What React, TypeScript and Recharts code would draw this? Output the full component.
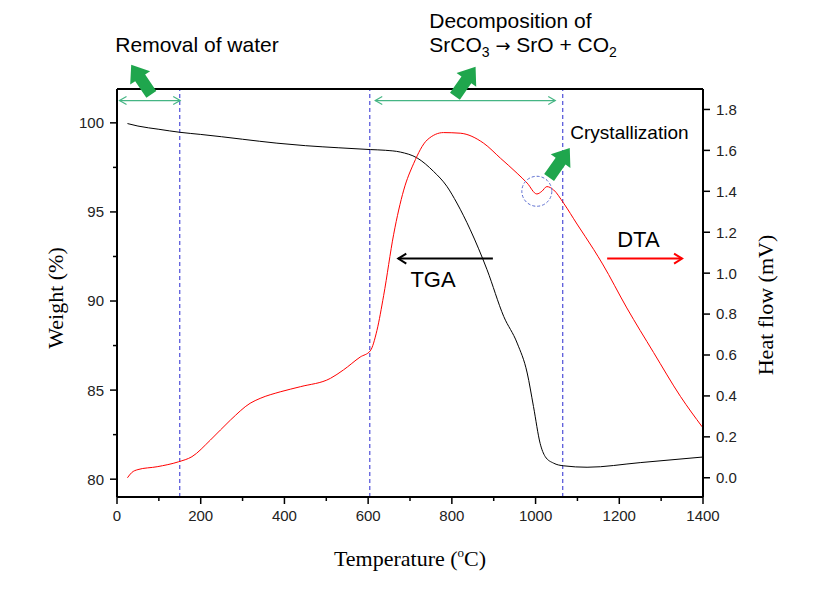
import { Line, LineChart, ReferenceDot, ReferenceLine, XAxis, YAxis } from "recharts";

// TGA: temperature (°C) vs weight (%)
const tgaTemp = [25, 50, 100, 150, 200, 250, 300, 382, 450, 530, 605, 641, 677, 717, 756, 788, 812, 844, 884, 924, 956, 980, 995, 1011, 1023, 1043, 1067, 1123, 1250, 1398];
const tgaWeight = [99.96, 99.82, 99.64, 99.47, 99.35, 99.22, 99.08, 98.86, 98.72, 98.6, 98.5, 98.46, 98.36, 98.03, 97.28, 96.44, 95.5, 94.0, 91.76, 89.13, 87.64, 85.96, 84.08, 82.0, 81.27, 80.9, 80.75, 80.67, 80.93, 81.24];

// DTA: temperature (°C) vs heat flow (mV)
const dtaTemp = [25, 35, 50, 96, 147, 179, 223, 271, 318, 342, 390, 438, 510, 541, 581, 605, 621, 637, 661, 685, 709, 741, 780, 820, 876, 916, 956, 980, 1003, 1015, 1027, 1043, 1067, 1099, 1139, 1160, 1218, 1282, 1346, 1398];
const dtaHeat = [0.0, 0.025, 0.04, 0.054, 0.078, 0.103, 0.184, 0.282, 0.364, 0.388, 0.42, 0.445, 0.486, 0.527, 0.59, 0.62, 0.72, 0.89, 1.19, 1.406, 1.537, 1.651, 1.687, 1.684, 1.635, 1.562, 1.488, 1.44, 1.387, 1.4, 1.423, 1.407, 1.342, 1.24, 1.115, 1.045, 0.83, 0.612, 0.398, 0.249];

const tempTicks = [0, 100, 200, 300, 400, 500, 600, 700, 800, 900, 1000, 1100, 1200, 1300, 1400];
const weightTicks = [80, 82.5, 85, 87.5, 90, 92.5, 95, 97.5, 100];
const heatTicks = [0, 0.2, 0.4, 0.6, 0.8, 1.0, 1.2, 1.4, 1.6, 1.8];

// stage boundaries (°C)
const stageLines = [150, 604, 1065];

const W = 818;
const H = 612;
const TICK = 7;
const MINOR = 4;
const GAP = 6;
const SANS = "'Liberation Sans', Arial, sans-serif";
const SERIF = "'Liberation Serif', 'Times New Roman', serif";
const GREEN = "#1fa64d";
const MINT = "#45b584";

const renderTick = (side: "left" | "right" | "bottom", isMajor: (v: number) => boolean, fmt: (v: number) => string) =>
  (p: any) => {
    const { x, y, payload } = p;
    const v = payload.value as number;
    const len = isMajor(v) ? TICK : MINOR;
    let line;
    let label = null;
    if (side === "left") {
      const ax = x + GAP + TICK;
      line = <line x1={ax} y1={y} x2={ax - len} y2={y} stroke="#000" strokeWidth={1.5} />;
      if (isMajor(v)) label = <text x={x} y={y} dy="0.36em" textAnchor="end">{fmt(v)}</text>;
    } else if (side === "right") {
      const ax = x - GAP - TICK;
      line = <line x1={ax} y1={y} x2={ax + len} y2={y} stroke="#000" strokeWidth={1.5} />;
      if (isMajor(v)) label = <text x={x} y={y} dy="0.36em" textAnchor="start">{fmt(v)}</text>;
    } else {
      const ay = y - GAP - TICK;
      line = <line x1={x} y1={ay} x2={x} y2={ay + len} stroke="#000" strokeWidth={1.5} />;
      if (isMajor(v)) label = <text x={x} y={y} dy="0.71em" textAnchor="middle">{fmt(v)}</text>;
    }
    return (
      <g fontFamily={SANS} fontSize={15} fill="#222">
        {line}
        {label}
      </g>
    );
  };

const chevron = (x: number, y: number, dir: number, len: number, half: number) =>
  `M${x - dir * len},${y - half} L${x},${y} L${x - dir * len},${y + half}`;

const blockArrow = (angle: number) => (p: any) => (
  <polygon
    points="-18,-6 2,-6 2,-12 18,0 2,12 2,6 -18,6"
    transform={`translate(${p.cx},${p.cy}) rotate(${angle})`}
    fill={GREEN}
  />
);

const note = (text: any, size: number, anchor = "start") => (p: any) => (
  <text x={p.cx} y={p.cy} fontFamily={SANS} fontSize={size} fill="#000" textAnchor={anchor}>
    {text}
  </text>
);

const spanShape = (p: any) => (
  <g stroke={MINT} strokeWidth={1.2} fill="none">
    <line x1={p.x1} y1={p.y1} x2={p.x2} y2={p.y2} />
    <path d={chevron(p.x1, p.y1, -1, 7, 4)} />
    <path d={chevron(p.x2, p.y2, 1, 7, 4)} />
  </g>
);

export default function App() {
  const tga = tgaTemp.map((t, i) => ({ t, w: tgaWeight[i] }));
  const dta = dtaTemp.map((t, i) => ({ t, h: dtaHeat[i] }));

  return (
    <div style={{ position: "absolute", left: 0, top: 0, width: W, height: H, background: "#fff" }}>
      <LineChart width={W} height={H} margin={{ top: 88, right: 55, bottom: 75, left: 57 }}>
        <XAxis
          xAxisId="top"
          orientation="top"
          type="number"
          domain={[0, 1400]}
          height={1}
          tick={false}
          tickLine={false}
          axisLine={{ stroke: "#000", strokeWidth: 2 }}
        />
        <XAxis
          dataKey="t"
          type="number"
          domain={[0, 1400]}
          ticks={tempTicks}
          interval={0}
          height={40}
          tickSize={TICK}
          tickMargin={GAP}
          tickLine={false}
          axisLine={{ stroke: "#000", strokeWidth: 2 }}
          tick={renderTick("bottom", (v) => v % 200 === 0, (v) => String(v))}
          label={(p: any) => (
            <text
              x={p.viewBox.x + p.viewBox.width / 2}
              y={p.viewBox.y + 69}
              textAnchor="middle"
              fontFamily={SERIF}
              fontSize={22}
              fill="#000"
            >
              Temperature (<tspan fontSize={13} dy={-9}>o</tspan>
              <tspan dy={9}>C)</tspan>
            </text>
          )}
        />
        <YAxis
          yAxisId="w"
          type="number"
          domain={[79, 101.9]}
          ticks={weightTicks}
          interval={0}
          width={60}
          tickSize={TICK}
          tickMargin={GAP}
          tickLine={false}
          axisLine={{ stroke: "#000", strokeWidth: 2 }}
          tick={renderTick("left", (v) => v % 5 === 0, (v) => String(v))}
          label={(p: any) => {
            const cx = p.viewBox.x + p.viewBox.width - 62;
            const cy = p.viewBox.y + p.viewBox.height / 2 + 5;
            return (
              <text x={cx} y={cy} transform={`rotate(-90 ${cx} ${cy})`} textAnchor="middle" dy="0.35em" fontFamily={SERIF} fontSize={22} fill="#000">
                Weight (%)
              </text>
            );
          }}
        />
        <YAxis
          yAxisId="h"
          orientation="right"
          type="number"
          domain={[-0.094, 1.9]}
          ticks={heatTicks}
          interval={0}
          width={60}
          tickSize={TICK}
          tickMargin={GAP}
          tickLine={false}
          axisLine={{ stroke: "#000", strokeWidth: 2 }}
          tick={renderTick("right", () => true, (v) => v.toFixed(1))}
          label={(p: any) => {
            const cx = p.viewBox.x + 62;
            const cy = p.viewBox.y + p.viewBox.height / 2 + 12;
            return (
              <text x={cx} y={cy} transform={`rotate(-90 ${cx} ${cy})`} textAnchor="middle" dy="0.35em" fontFamily={SERIF} fontSize={22} fill="#000">
                Heat flow (mV)
              </text>
            );
          }}
        />

        {stageLines.map((t) => (
          <ReferenceLine key={t} x={t} yAxisId="w" stroke="#2b2bd0" strokeWidth={1} strokeDasharray="4 3" />
        ))}

        <Line data={tga} yAxisId="w" dataKey="w" type="monotone" stroke="#000" strokeWidth={1} dot={false} isAnimationActive={false} />
        <Line data={dta} yAxisId="h" dataKey="h" type="monotone" stroke="#ff0000" strokeWidth={1} dot={false} isAnimationActive={false} />

        {/* stage spans */}
        <ReferenceLine yAxisId="w" segment={[{ x: 6, y: 101.25 }, { x: 151, y: 101.25 }]} shape={spanShape} />
        <ReferenceLine yAxisId="w" segment={[{ x: 617, y: 101.25 }, { x: 1047, y: 101.25 }]} shape={spanShape} />

        {/* TGA / DTA pointers */}
        <ReferenceLine
          yAxisId="w"
          segment={[{ x: 898, y: 92.38 }, { x: 672, y: 92.38 }]}
          shape={(p: any) => (
            <g stroke="#000" strokeWidth={2} fill="none">
              <line x1={p.x1} y1={p.y1} x2={p.x2} y2={p.y2} />
              <path d={chevron(p.x2, p.y2, -1, 8, 5)} />
            </g>
          )}
        />
        <ReferenceLine
          yAxisId="w"
          segment={[{ x: 1171, y: 92.38 }, { x: 1350, y: 92.38 }]}
          shape={(p: any) => (
            <g stroke="#ff0000" strokeWidth={2} fill="none">
              <line x1={p.x1} y1={p.y1} x2={p.x2} y2={p.y2} />
              <path d={chevron(p.x2, p.y2, 1, 8, 5)} />
            </g>
          )}
        />

        <ReferenceDot yAxisId="w" x={1003} y={96.16} r={15} fill="none" stroke="#5a6cd0" strokeWidth={1} strokeDasharray="3 2" ifOverflow="visible" />

        <ReferenceDot yAxisId="w" x={58} y={102.43} ifOverflow="visible" shape={blockArrow(-124)} />
        <ReferenceDot yAxisId="w" x={832} y={102.32} ifOverflow="visible" shape={blockArrow(-55)} />
        <ReferenceDot yAxisId="w" x={1057} y={97.76} ifOverflow="visible" shape={blockArrow(-55)} />

        <ReferenceDot yAxisId="w" x={-4} y={104.0} ifOverflow="visible" shape={note("Removal of water", 21)} />
        <ReferenceDot yAxisId="w" x={746} y={105.35} ifOverflow="visible" shape={note("Decomposition of", 21)} />
        <ReferenceDot
          yAxisId="w"
          x={746}
          y={104.0}
          ifOverflow="visible"
          shape={note(
            <>
              SrCO<tspan fontSize={14} dy={5}>3</tspan>
              <tspan dy={-5}> </tspan>
              <tspan fontFamily="'DejaVu Sans', sans-serif" fontSize={18}>→</tspan>
              <tspan> SrO + CO</tspan>
              <tspan fontSize={14} dy={5}>2</tspan>
            </>,
            21
          )}
        />
        <ReferenceDot yAxisId="w" x={1083} y={99.12} ifOverflow="visible" shape={note("Crystallization", 19)} />
        <ReferenceDot yAxisId="w" x={1195} y={93.05} ifOverflow="visible" shape={note("DTA", 22)} />
        <ReferenceDot yAxisId="w" x={701} y={90.8} ifOverflow="visible" shape={note("TGA", 22)} />
      </LineChart>
    </div>
  );
}
